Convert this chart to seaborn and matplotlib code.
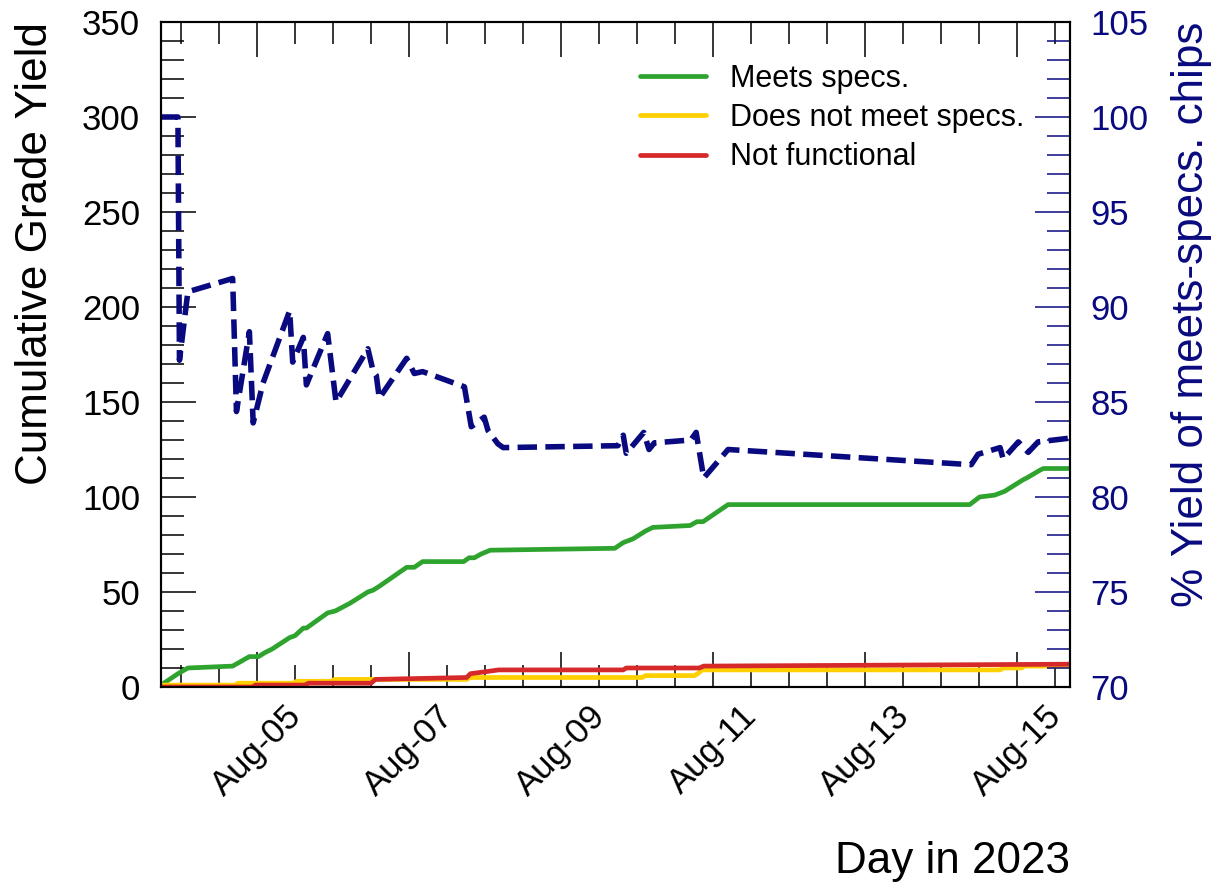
import matplotlib
matplotlib.use("Agg")
import numpy as np
import pandas as pd
import seaborn as sns
import matplotlib.pyplot as plt
import matplotlib.dates as mdates
from matplotlib.ticker import MultipleLocator

# ---------------- data ----------------
meets_time = ["08-03 17:41", "08-03 23:02", "08-04 02:10", "08-04 16:19", "08-04 21:36",
              "08-05 00:29", "08-05 02:24", "08-05 04:48", "08-05 10:19", "08-05 12:00",
              "08-05 14:38", "08-05 15:36", "08-05 22:19", "08-06 00:43", "08-06 05:17",
              "08-06 11:02", "08-06 12:43", "08-06 14:38", "08-06 23:17", "08-07 01:41",
              "08-07 04:19", "08-07 17:17", "08-07 18:58", "08-07 20:38", "08-07 22:48",
              "08-08 01:41", "08-09 17:02", "08-09 19:41", "08-09 22:48", "08-10 02:38",
              "08-10 05:02", "08-10 16:48", "08-10 18:58", "08-10 20:53", "08-11 04:48",
              "08-14 09:07", "08-14 12:14", "08-14 17:02", "08-14 20:10", "08-15 01:55",
              "08-15 03:07", "08-15 07:12", "08-15 08:24", "08-15 16:48"]
meets_count = [1, 7, 10, 11, 16, 16, 18, 20, 26, 27, 31, 31, 39, 40, 44, 50, 51, 53, 63, 63,
               66, 66, 68, 68, 70, 72, 73, 76, 78, 82, 84, 85, 87, 87, 96, 96, 100, 101, 103,
               109, 110, 114, 115, 115]

notmeet_time = ["08-03 17:41", "08-04 17:02", "08-04 18:00", "08-05 11:31", "08-05 12:29",
                "08-05 23:31", "08-06 00:29", "08-07 18:14", "08-07 19:12", "08-10 01:41",
                "08-10 02:38", "08-10 18:14", "08-10 19:12", "08-10 20:38", "08-14 18:43",
                "08-14 19:41", "08-15 01:26", "08-15 02:24", "08-15 16:48"]
notmeet_count = [1, 1, 2, 2, 3, 3, 4, 4, 5, 5, 6, 6, 7, 9, 9, 10, 10, 11, 11]

notfunc_time = ["08-03 17:41", "08-04 22:34", "08-04 23:31", "08-05 15:07", "08-05 16:19",
                "08-06 12:00", "08-06 13:26", "08-07 18:14", "08-07 19:26", "08-08 00:00",
                "08-08 04:19", "08-09 19:41", "08-09 20:38", "08-10 19:41", "08-10 21:07",
                "08-15 16:48"]
notfunc_count = [0, 0, 1, 1, 2, 2, 4, 5, 7, 8, 9, 9, 10, 10, 11, 12]

yield_time = ["08-03 17:41", "08-03 23:02", "08-03 23:31", "08-04 02:10", "08-04 16:19",
              "08-04 17:31", "08-04 21:36", "08-04 22:48", "08-05 01:55", "08-05 10:19",
              "08-05 11:17", "08-05 14:38", "08-05 15:36", "08-05 22:19", "08-06 00:58",
              "08-06 11:02", "08-06 12:43", "08-06 13:41", "08-06 14:38", "08-06 23:17",
              "08-07 01:41", "08-07 04:19", "08-07 17:31", "08-07 19:41", "08-07 23:46",
              "08-08 00:58", "08-08 04:05", "08-08 05:46", "08-09 18:00", "08-09 19:41",
              "08-09 20:38", "08-10 02:10", "08-10 03:50", "08-10 05:31", "08-10 17:02",
              "08-10 18:43", "08-10 21:07", "08-11 04:48", "08-14 09:36", "08-14 11:46",
              "08-14 18:43", "08-14 19:41", "08-15 00:29", "08-15 03:36", "08-15 06:43",
              "08-15 16:48"]
yield_pct = [100, 100, 87.2, 90.8, 91.5, 84.5, 88.7, 83.9, 86.0, 89.8, 87.1, 88.4, 85.9,
             88.6, 85.0, 87.8, 86.6, 86.4, 85.2, 87.3, 86.5, 86.6, 85.8, 83.7, 84.2, 83.5,
             82.8, 82.6, 82.7, 83.25, 82.3, 83.4, 82.5, 82.85, 83.0, 83.4, 81.0, 82.5, 81.7,
             82.25, 82.6, 82.0, 82.9, 82.35, 82.9, 83.1]

legend_labels = ["Meets specs.", "Does not meet specs.", "Not functional"]
x_range = ["08-03 17:41", "08-15 16:48"]


def to_dt(lst):
    return pd.to_datetime(["2023-" + s for s in lst], format="%Y-%m-%d %H:%M")


df_meets = pd.DataFrame({"time": to_dt(meets_time), "count": meets_count})
df_notmeet = pd.DataFrame({"time": to_dt(notmeet_time), "count": notmeet_count})
df_notfunc = pd.DataFrame({"time": to_dt(notfunc_time), "count": notfunc_count})
df_yield = pd.DataFrame({"time": to_dt(yield_time), "pct": yield_pct})

GREEN = "#2ea42e"
YELLOW = "#ffd000"
RED = "#d62a2a"
NAVY = "#0a0a80"

# ---------------- style ----------------
sns.set_theme(style="ticks")
plt.rcParams["font.family"] = ["Liberation Sans", "DejaVu Sans"]
plt.rcParams["axes.linewidth"] = 1.5

W, H = 1214, 885
fig = plt.figure(figsize=(W / 100, H / 100), dpi=100)
ax = fig.add_axes([161 / W, 198 / H, 909 / W, 665 / H])

sns.lineplot(data=df_meets, x="time", y="count", ax=ax, color=GREEN, linewidth=3.4,
             estimator=None, sort=False)
sns.lineplot(data=df_notmeet, x="time", y="count", ax=ax, color=YELLOW, linewidth=3.4,
             estimator=None, sort=False)
sns.lineplot(data=df_notfunc, x="time", y="count", ax=ax, color=RED, linewidth=3.4,
             estimator=None, sort=False)
main_lines = ax.get_lines()[:3]

ax2 = ax.twinx()
sns.lineplot(data=df_yield, x="time", y="pct", ax=ax2, color=NAVY, linewidth=4,
             estimator=None, sort=False)
for ln in ax2.get_lines():
    ln.set_dashes((3.5, 1.5))

# limits
xr = to_dt(x_range)
ax.set_xlim(xr[0], xr[1])
ax.set_ylim(0, 350)
ax2.set_ylim(70, 105)

# ticks
ax.xaxis.set_major_locator(mdates.DayLocator(bymonthday=list(range(1, 32, 2))))
ax.xaxis.set_minor_locator(mdates.HourLocator(byhour=[0, 12]))
ax.xaxis.set_major_formatter(mdates.DateFormatter("%b-%d"))
ax.yaxis.set_major_locator(MultipleLocator(50))
ax.yaxis.set_minor_locator(MultipleLocator(10))
ax2.yaxis.set_major_locator(MultipleLocator(5))
ax2.yaxis.set_minor_locator(MultipleLocator(1))

ax.tick_params(axis="x", which="both", direction="in", top=True, bottom=True,
               color="black", labelcolor="black", width=1.1)
ax.tick_params(axis="x", which="major", length=25, labelsize=25, pad=9,
               labelrotation=45)
ax.tick_params(axis="x", which="minor", length=16)
ax.tick_params(axis="y", which="both", direction="in", left=True, right=False,
               color="black", labelcolor="black", width=1.1)
ax.tick_params(axis="y", which="major", length=25, labelsize=25, pad=15)
ax.tick_params(axis="y", which="minor", length=16.5)

ax2.tick_params(axis="y", which="both", direction="in", right=True, left=False,
                color=NAVY, labelcolor=NAVY, width=1.1)
ax2.tick_params(axis="y", which="major", length=25, labelsize=25, pad=14.5)
ax2.tick_params(axis="y", which="minor", length=16.5)

for a in (ax, ax2):
    for sp in a.spines.values():
        sp.set_color("black")
        sp.set_linewidth(1.5)
    a.set_xlabel("")
    a.set_ylabel("")
    a.grid(False)

# legend
leg = ax.legend(handles=main_lines, labels=legend_labels, loc="upper left",
                bbox_to_anchor=(640 / W, (H - 64) / H), bbox_transform=fig.transFigure,
                frameon=False, fontsize=22, handlelength=2.15, handletextpad=0.8,
                labelspacing=0.3, borderpad=0, borderaxespad=0)
for t in leg.get_texts():
    t.set_color("black")

# axis titles
fig.text(36 / W, (H - 22) / H, "Cumulative Grade Yield", rotation=90, ha="center",
         va="top", fontsize=31.7, color="black")
fig.text(1192 / W, (H - 22) / H, "% Yield of meets-specs. chips", rotation=90,
         ha="center", va="top", fontsize=31.7, color=NAVY)
fig.text(1070 / W, 12 / H, "Day in 2023", ha="right", va="baseline", fontsize=31.7,
         color="black")

fig.savefig("out.png", dpi=100)
